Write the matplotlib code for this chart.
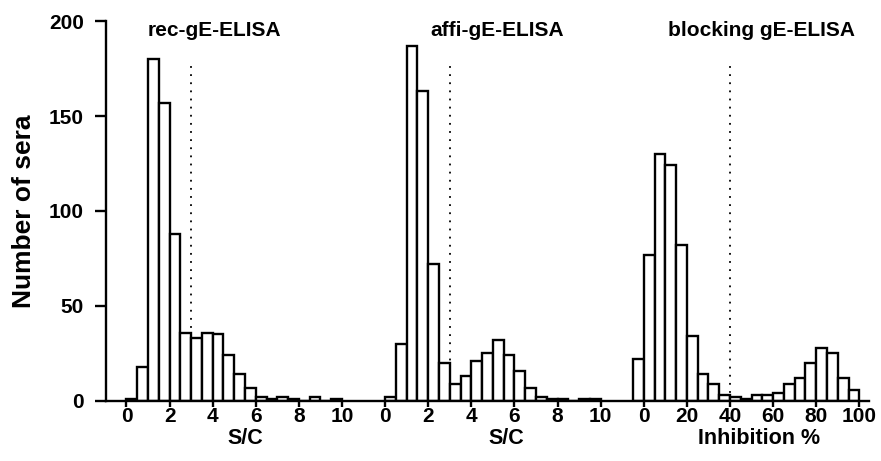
import numpy as np
import matplotlib
matplotlib.use('Agg')
import matplotlib.pyplot as plt
import matplotlib.transforms as mtransforms

# ================= data =================
# S/C bins of width 0.5 from 0 to 10
SC_BIN_LEFT = np.arange(0, 10, 0.5)
REC_COUNTS = [1, 18, 180, 157, 88, 36, 33, 36, 35, 24, 14, 7, 2, 1, 2, 1, 0, 2, 0, 1]
AFFI_COUNTS = [2, 30, 187, 163, 72, 20, 9, 13, 21, 25, 32, 24, 16, 7, 2, 1, 1, 0, 1, 1]

# inhibition % bins of width 5 from -5 to 100
INH_BIN_LEFT = np.arange(-5, 100, 5)
BLOCK_COUNTS = [22, 77, 130, 124, 82, 34, 14, 9, 3, 2, 1, 3, 3, 4, 9, 12, 20, 28, 25, 12, 6]

SC_TICKS = [0, 2, 4, 6, 8, 10]
INH_TICKS = [0, 20, 40, 60, 80, 100]
Y_TICKS = [0, 50, 100, 150, 200]

SC_CUTOFF = 3
INH_CUTOFF = 40
CUTOFF_TOP = 177

TITLES = ['rec-gE-ELISA', 'affi-gE-ELISA', 'blocking gE-ELISA']
XLABELS = ['S/C', 'S/C', 'Inhibition %']

# ================= layout =================
OFFSETS = [0, 12, 24]     # where each panel starts on the shared x axis
INH_SCALE = 0.1           # 100 % takes the same width as 10 S/C units

plt.rcParams['font.family'] = ['Liberation Sans', 'DejaVu Sans']
plt.rcParams['font.weight'] = 'bold'

fig = plt.figure(figsize=(8.81, 4.61), dpi=100)
ax = fig.add_axes([0.1203, 0.1302, 0.8661, 0.8242])

bar_kw = dict(align='edge', facecolor='white', edgecolor='black', linewidth=1.7, zorder=2)

ax.bar(OFFSETS[0] + SC_BIN_LEFT, REC_COUNTS, width=0.5, **bar_kw)
ax.bar(OFFSETS[1] + SC_BIN_LEFT, AFFI_COUNTS, width=0.5, **bar_kw)
ax.bar(OFFSETS[2] + INH_BIN_LEFT * INH_SCALE, BLOCK_COUNTS, width=5 * INH_SCALE, **bar_kw)

# cut-off lines
for xc in [OFFSETS[0] + SC_CUTOFF, OFFSETS[1] + SC_CUTOFF, OFFSETS[2] + INH_CUTOFF * INH_SCALE]:
    ax.plot([xc, xc], [0, CUTOFF_TOP], color='black', linestyle=(0, (1, 3.5)), linewidth=1.3, zorder=1)

# x ticks
tick_pos = ([OFFSETS[0] + t for t in SC_TICKS] + [OFFSETS[1] + t for t in SC_TICKS]
            + [OFFSETS[2] + t * INH_SCALE for t in INH_TICKS])
tick_lab = [str(t) for t in SC_TICKS] * 2 + [str(t) for t in INH_TICKS]
ax.set_xticks(tick_pos)
ax.set_xticklabels(tick_lab)
ax.set_yticks(Y_TICKS)

ax.set_xlim(-0.95, 34.45)
ax.set_ylim(0, 200)

for side in ['top', 'right']:
    ax.spines[side].set_visible(False)
for side in ['left', 'bottom']:
    ax.spines[side].set_linewidth(1.7)

ax.tick_params(axis='x', direction='out', length=4, width=1.7, pad=0.5, labelsize=15)
ax.tick_params(axis='y', direction='out', length=8, width=1.7, pad=8, labelsize=15)

ax.set_ylabel('Number of sera', fontsize=19, fontweight='bold', labelpad=9)

# panel titles and axis labels
title_x = [OFFSETS[0] + 4.1, OFFSETS[1] + 5.2, OFFSETS[2] + 5.45]
for x, t in zip(title_x, TITLES):
    ax.text(x, 195, t, ha='center', va='center', fontsize=15, fontweight='bold')

trans = mtransforms.blended_transform_factory(ax.transData, ax.transAxes)
label_x = [OFFSETS[0] + 5.5, OFFSETS[1] + 5.6, OFFSETS[2] + 5.35]
for x, t in zip(label_x, XLABELS):
    ax.text(x, -0.098, t, transform=trans, ha='center', va='center', fontsize=15.5, fontweight='bold')

fig.savefig('out.png', dpi=100)
